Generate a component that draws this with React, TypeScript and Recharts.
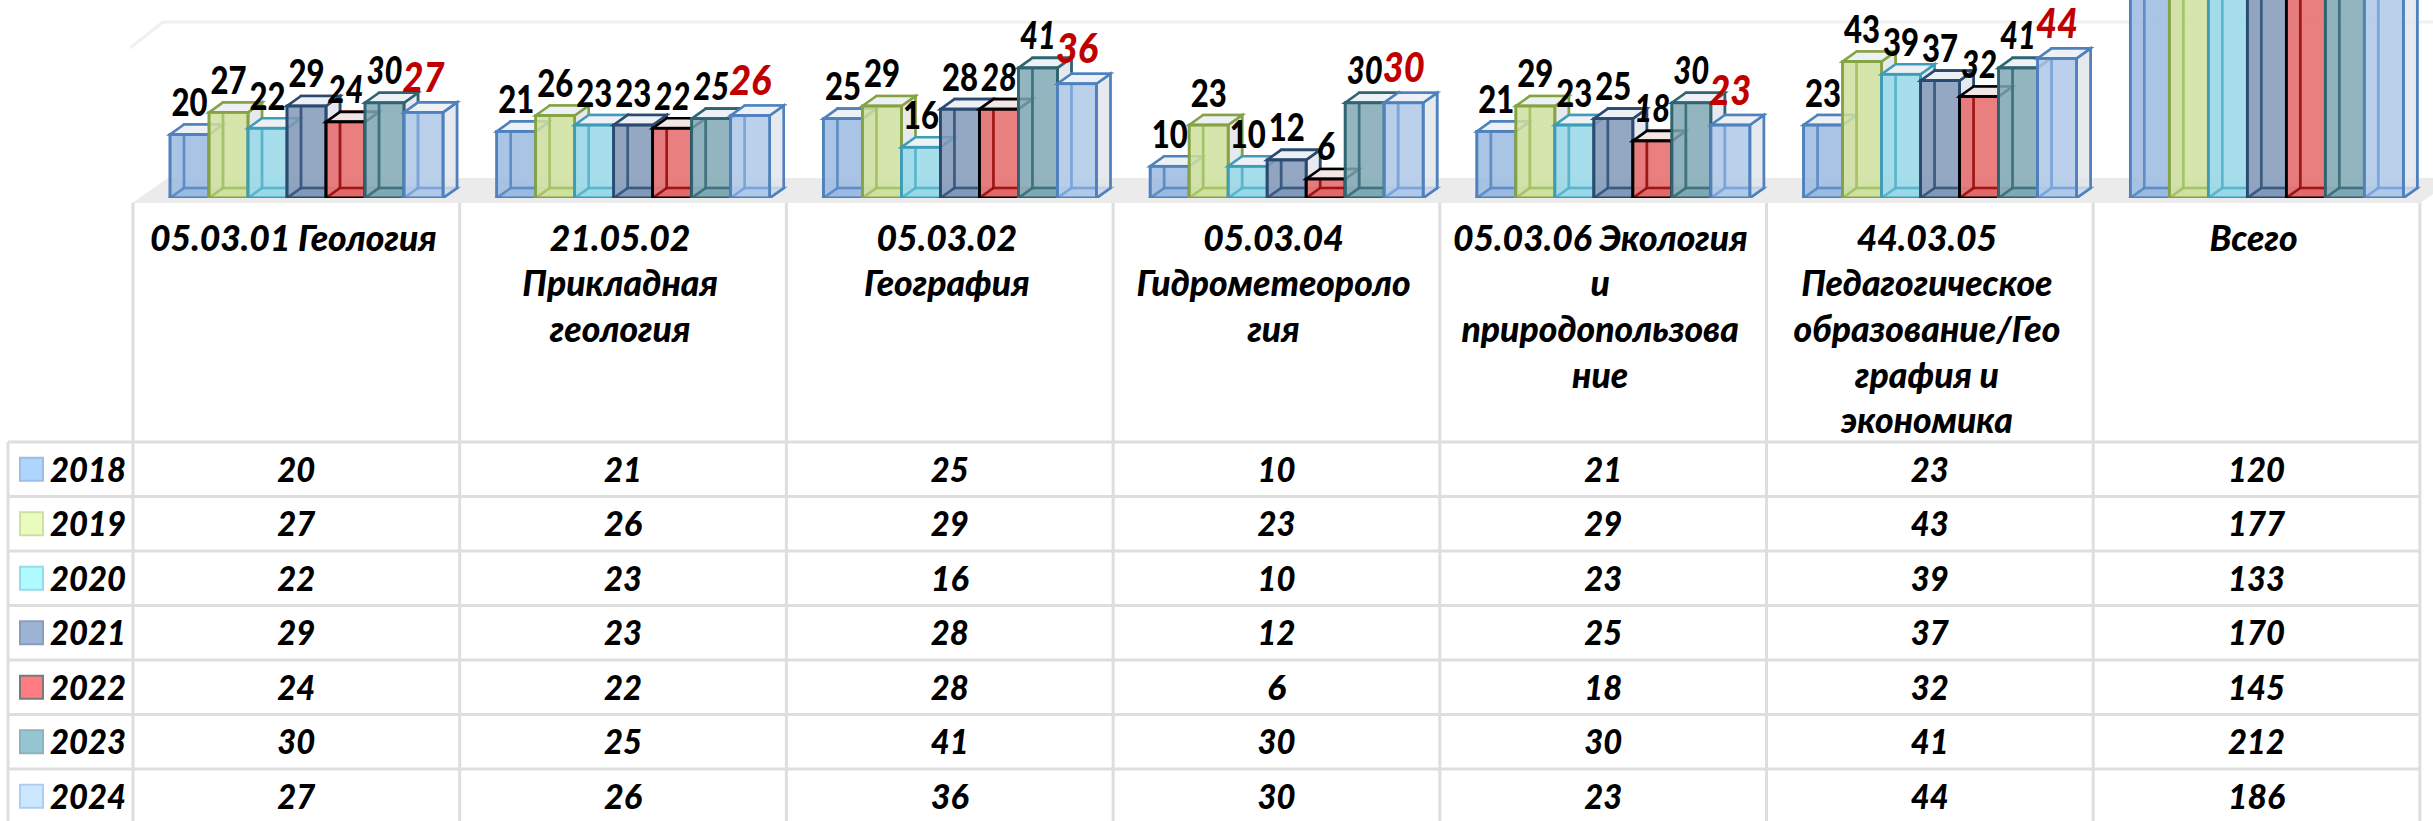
import React from "react";
import { BarChart, Bar, XAxis, YAxis, LabelList, Customized } from "recharts";

const categories = ["05.03.01 Геология", "21.05.02 Прикладная геология", "05.03.02 География", "05.03.04 Гидрометеорология", "05.03.06 Экология и природопользование", "44.03.05 Педагогическое образование/География и экономика", "Всего"];
const categoryLines = [
  ["05.03.01 Геология"],
  ["21.05.02", "Прикладная", "геология"],
  ["05.03.02", "География"],
  ["05.03.04", "Гидрометеороло", "гия"],
  ["05.03.06 Экология", "и", "природопользова", "ние"],
  ["44.03.05", "Педагогическое", "образование/Гео", "графия и", "экономика"],
  ["Всего"],
];
const years = ["2018", "2019", "2020", "2021", "2022", "2023", "2024"];
const v2018 = [20, 21, 25, 10, 21, 23, 120];
const v2019 = [27, 26, 29, 23, 29, 43, 177];
const v2020 = [22, 23, 16, 10, 23, 39, 133];
const v2021 = [29, 23, 28, 12, 25, 37, 170];
const v2022 = [24, 22, 28, 6, 18, 32, 145];
const v2023 = [30, 25, 41, 30, 30, 41, 212];
const v2024 = [27, 26, 36, 30, 23, 44, 186];
const seriesValues = [v2018, v2019, v2020, v2021, v2022, v2023, v2024];

const faceFill = ["#9BBAE0", "#CFE09E", "#98D8E8", "#8199B8", "#E56868", "#7FA8B5", "#AFC9E8"];
const edge = ["#4F81BD", "#85A344", "#3D9DB8", "#2A4A70", "#000000", "#2F6470", "#4F81BD"];
const innerEdge = ["#4F81BD", "#9BBB59", "#4BACC6", "#2A4A70", "#8B0000", "#2F6470", "#6E9BD8"];
const keyFill = ["#AFD5FF", "#EAFCBC", "#AEFAFF", "#9DB3D3", "#FF7C80", "#97C6D3", "#CCE8FF"];
const keyEdge = ["#9DBDE5", "#CFE0A0", "#95DCE8", "#8A9EBB", "#7A7A7A", "#8AB3BE", "#AECDF2"];

const FONT = 'Lato, "Noto Sans", sans-serif';
const W = 2433, H = 821;
const dx = 14, dy = 10;
const tableLeft = 133, colW = 326.7, legendLeft = 8;
const rowTop = 442, rowH = 54.5;
const gridColor = "#DEDEDE";

const rows = categories.map((c, i) => {
  const r: Record<string, any> = { category: c };
  years.forEach((y, k) => (r[y] = seriesValues[k][i]));
  return r;
});

function Box3D(props: any) {
  const { x, y, width: w, height: h, idx } = props;
  const s = edge[idx];
  const ie = innerEdge[idx];
  const sw = 2.6;
  const b = y + h;
  return (
    <g strokeLinejoin="miter">
      <polygon points={`${x + dx},${y - dy} ${x + w + dx},${y - dy} ${x + w + dx},${b - dy} ${x + dx},${b - dy}`} fill="#FFFFFF" fillOpacity={0.25} stroke={ie} strokeWidth={sw} />
      <polygon points={`${x},${b} ${x + w},${b} ${x + w + dx},${b - dy} ${x + dx},${b - dy}`} fill={faceFill[idx]} stroke={ie} strokeWidth={sw} />
      <polygon points={`${x + w},${y} ${x + w + dx},${y - dy} ${x + w + dx},${b - dy} ${x + w},${b}`} fill="#DDE2E8" fillOpacity={0.75} stroke={s} strokeWidth={sw} />
      <polygon points={`${x},${y} ${x + w},${y} ${x + w + dx},${y - dy} ${x + dx},${y - dy}`} fill={idx === 4 ? "#F3E6E6" : "#EDF1F5"} stroke={s} strokeWidth={sw} />
      <rect x={x} y={y} width={w} height={h} fill={faceFill[idx]} fillOpacity={0.85} stroke={s} strokeWidth={sw} />
      {/* back edges seen through the translucent front */}
      <polyline points={`${x + dx},${y} ${x + dx},${b - dy} ${x + w},${b - dy}`} fill="none" stroke={ie} strokeWidth={sw} strokeOpacity={0.75} />
      <line x1={x} y1={b} x2={x + dx} y2={b - dy} stroke={ie} strokeWidth={sw} strokeOpacity={0.75} />
      <rect x={x} y={y} width={w} height={h} fill="none" stroke={s} strokeWidth={sw} />
    </g>
  );
}

function makeLabel(idx: number) {
  return function ValueLabel(props: any) {
    const { x, y, width, value } = props;
    const red = idx === 6;
    const ty = y - (red ? 36 : 33);
    if (ty < 12) return null; // the tallest columns run off the top of the picture, with their labels
    return (
      <text
        x={x + width / 2}
        y={ty}
        textAnchor="middle"
        dominantBaseline="central"
        fontFamily={FONT}
        fontWeight={900}
        fontStyle={idx >= 4 ? "italic" : "normal"}
        fontSize={red ? 41 : 37}
        textLength={String(value).length * (red ? 21 : 18)}
        lengthAdjust="spacingAndGlyphs"
        fill={red ? "#C00000" : "#000000"}
      >
        {value}
      </text>
    );
  };
}

function CategoryTick(props: any) {
  const { x, payload, index } = props;
  const cx = x - 12;
  const lines = categoryLines[index ?? 0] ?? [payload.value];
  return (
    <g>
      {lines.map((t, i) => (
        <text key={i} x={cx} y={237 + i * 45.7} textAnchor="middle" dominantBaseline="central" fontFamily={FONT} fontWeight={900} fontStyle="italic" fontSize={35.5} fill="#000">
          {t}
        </text>
      ))}
    </g>
  );
}

function Floor() {
  return (
    <g>
      <polyline points={`130,48 163,22 ${W},22`} fill="none" stroke="#F0F0F0" strokeWidth={3} />
      <polygon points={`132,203 168,178 ${W},178 ${W},194 2420,203`} fill="#EBEBEB" />
    </g>
  );
}

function DataTable() {
  const text = { fontFamily: FONT, fontWeight: 900, fontStyle: "italic", fontSize: 35, fill: "#000", lengthAdjust: "spacingAndGlyphs" } as const;
  return (
    <g>
      {categories.map((_, c) => (
        <line key={"v" + c} x1={tableLeft + c * colW} x2={tableLeft + c * colW} y1={203} y2={H} stroke={gridColor} strokeWidth={3} />
      ))}
      <line x1={tableLeft + 7 * colW} x2={tableLeft + 7 * colW} y1={203} y2={H} stroke={gridColor} strokeWidth={3} />
      <line x1={legendLeft} x2={legendLeft} y1={rowTop} y2={H} stroke={gridColor} strokeWidth={3} />
      {years.map((_, r) => (
        <line key={"h" + r} x1={legendLeft} x2={tableLeft + 7 * colW} y1={rowTop + r * rowH} y2={rowTop + r * rowH} stroke={gridColor} strokeWidth={3} />
      ))}
      {years.map((y, r) => {
        const cy = rowTop + r * rowH + rowH / 2 - 1.5;
        return (
          <g key={y}>
            <rect x={20} y={cy - 10} width={23} height={23} fill={keyFill[r]} stroke={keyEdge[r]} strokeWidth={2} />
            <text x={50} y={cy} dominantBaseline="central" textLength={76} {...text}>{y}</text>
            {seriesValues[r].map((val, c) => (
              <text key={c} x={tableLeft + (c + 0.5) * colW} y={cy} textAnchor="middle" dominantBaseline="central" textLength={String(val).length * 19} {...text}>{val}</text>
            ))}
          </g>
        );
      })}
    </g>
  );
}

export default function App() {
  return (
    <div style={{ position: "absolute", left: 0, top: 0, width: W, height: H, background: "#fff" }}>
      <BarChart width={W} height={H} data={rows} margin={{ top: 0, right: 4, bottom: 0, left: 142 }} barCategoryGap={28} barGap={0}>
        <Customized component={Floor} />
        <XAxis dataKey="category" height={H - 198} axisLine={false} tickLine={false} interval={0} tick={<CategoryTick />} />
        <YAxis hide domain={[0, 62.4]} allowDataOverflow />
        {years.map((y, i) => (
          <Bar key={y} dataKey={y} isAnimationActive={false} shape={(p: any) => <Box3D {...p} idx={i} />}>
            <LabelList dataKey={y} content={makeLabel(i)} />
          </Bar>
        ))}
        <Customized component={DataTable} />
      </BarChart>
    </div>
  );
}
